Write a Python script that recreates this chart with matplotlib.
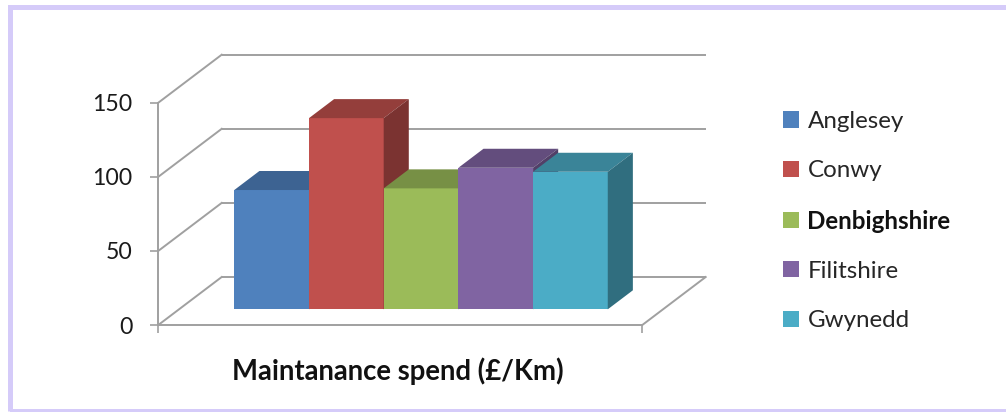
import matplotlib
matplotlib.use('Agg')
import matplotlib.pyplot as plt
from matplotlib.patches import Polygon, Rectangle, Patch
from matplotlib.colors import to_rgb
import numpy as np

plt.rcParams['font.family'] = ['Lato', 'DejaVu Sans']

# data
councils = ['Anglesey', 'Conwy', 'Denbighshire', 'Filitshire', 'Gwynedd']
spend = [80.5, 129, 81.6, 95.5, 92.8]
colours = ['#4F81BD', '#C0504D', '#9BBB59', '#8064A2', '#4BACC6']
y_ticks = [0, 50, 100, 150]
axis_title = 'Maintanance spend (£/Km)'

W, H = 1006, 412
GRID = '#a0a0a0'

fig = plt.figure(figsize=(W / 100, H / 100), dpi=100)
ax = fig.add_axes([158.3 / W, (H - 325) / H, 484 / W, 222.3 / H])
x_lo, x_hi = -1.24, 5.24
ax.set_xlim(x_lo, x_hi)
ax.set_ylim(0, 150)

# oblique depth of the floor, in data units
px_x = 484 / (x_hi - x_lo)
px_y = 222.3 / 150
DX, DY = 63.4 / px_x, 48 / px_y
d0, d1 = 0.327, 0.723  # bars sit in this slice of the depth

# back wall, side wall and floor lines
for v in y_ticks:
    ax.plot([x_lo + DX, x_hi + DX], [v + DY, v + DY], color=GRID, lw=1.4,
            clip_on=False, zorder=1, solid_capstyle='butt')
    ax.plot([x_lo, x_lo + DX], [v, v + DY], color=GRID, lw=1.4,
            clip_on=False, zorder=1)
ax.plot([x_hi, x_hi + DX], [0, DY], color=GRID, lw=1.4, clip_on=False, zorder=1)


def shade(c, f):
    r, g, b = to_rgb(c)
    return (r * f, g * f, b * f)


ox, oy = d0 * DX, d0 * DY
bdx, bdy = (d1 - d0) * DX, (d1 - d0) * DY
x = np.arange(len(councils))
for i, (val, c) in enumerate(zip(spend, colours)):
    z = 3 + i
    ax.bar(x[i] + ox, val, width=1.0, bottom=oy, color=c, clip_on=False, zorder=z)
    xl, xr = x[i] + ox - 0.5, x[i] + ox + 0.5
    top = oy + val
    ax.add_patch(Polygon([(xl, top), (xr, top), (xr + bdx, top + bdy), (xl + bdx, top + bdy)],
                         closed=True, fc=shade(c, 0.77), ec='none', clip_on=False, zorder=z))
    ax.add_patch(Polygon([(xr, oy), (xr, top), (xr + bdx, top + bdy), (xr + bdx, oy + bdy)],
                         closed=True, fc=shade(c, 0.64), ec='none', clip_on=False, zorder=z))

for s in ['top', 'right']:
    ax.spines[s].set_visible(False)
for s in ['left', 'bottom']:
    ax.spines[s].set_color(GRID)
    ax.spines[s].set_linewidth(1.4)
ax.set_facecolor('none')

ax.set_yticks(y_ticks)
ax.tick_params(axis='y', direction='out', length=5.5, width=1.2, color=GRID,
               pad=13.2, labelsize=16.6, labelcolor='#1a1a1a')
ax.set_xticks([x_lo, x_hi])
ax.set_xticklabels(['', ''])
ax.tick_params(axis='x', direction='out', length=5.8, width=1.2, color=GRID)

ax.set_xlabel(axis_title, fontsize=19.8, fontweight='bold', color='#111111')
ax.xaxis.label.set_va('baseline')
ax.xaxis.set_label_coords((397.8 - 158.3) / 484, -55 / 222.3)

handles = [Patch(facecolor=c, edgecolor='none') for c in colours]
leg = ax.legend(handles, councils, loc='upper left',
                bbox_to_anchor=(783.3 / W, 1 - 111 / H), bbox_transform=fig.transFigure,
                frameon=False, fontsize=17.4, handlelength=0.65, handleheight=0.65,
                handletextpad=0.35, labelspacing=1.17, borderpad=0, borderaxespad=0)
for t in leg.get_texts():
    t.set_color('#262626')
leg.get_texts()[2].set_fontweight('bold')
leg.get_texts()[2].set_color('#111111')

# lavender frame round the chart
fig.add_artist(Rectangle((9.5 / W, 1 - 410.5 / H), (1012 - 9.5) / W, (410.5 - 6.7) / H,
                         transform=fig.transFigure, fill=False, ec='#D5CBF9', lw=3.6))

fig.savefig('out.png', dpi=100)
